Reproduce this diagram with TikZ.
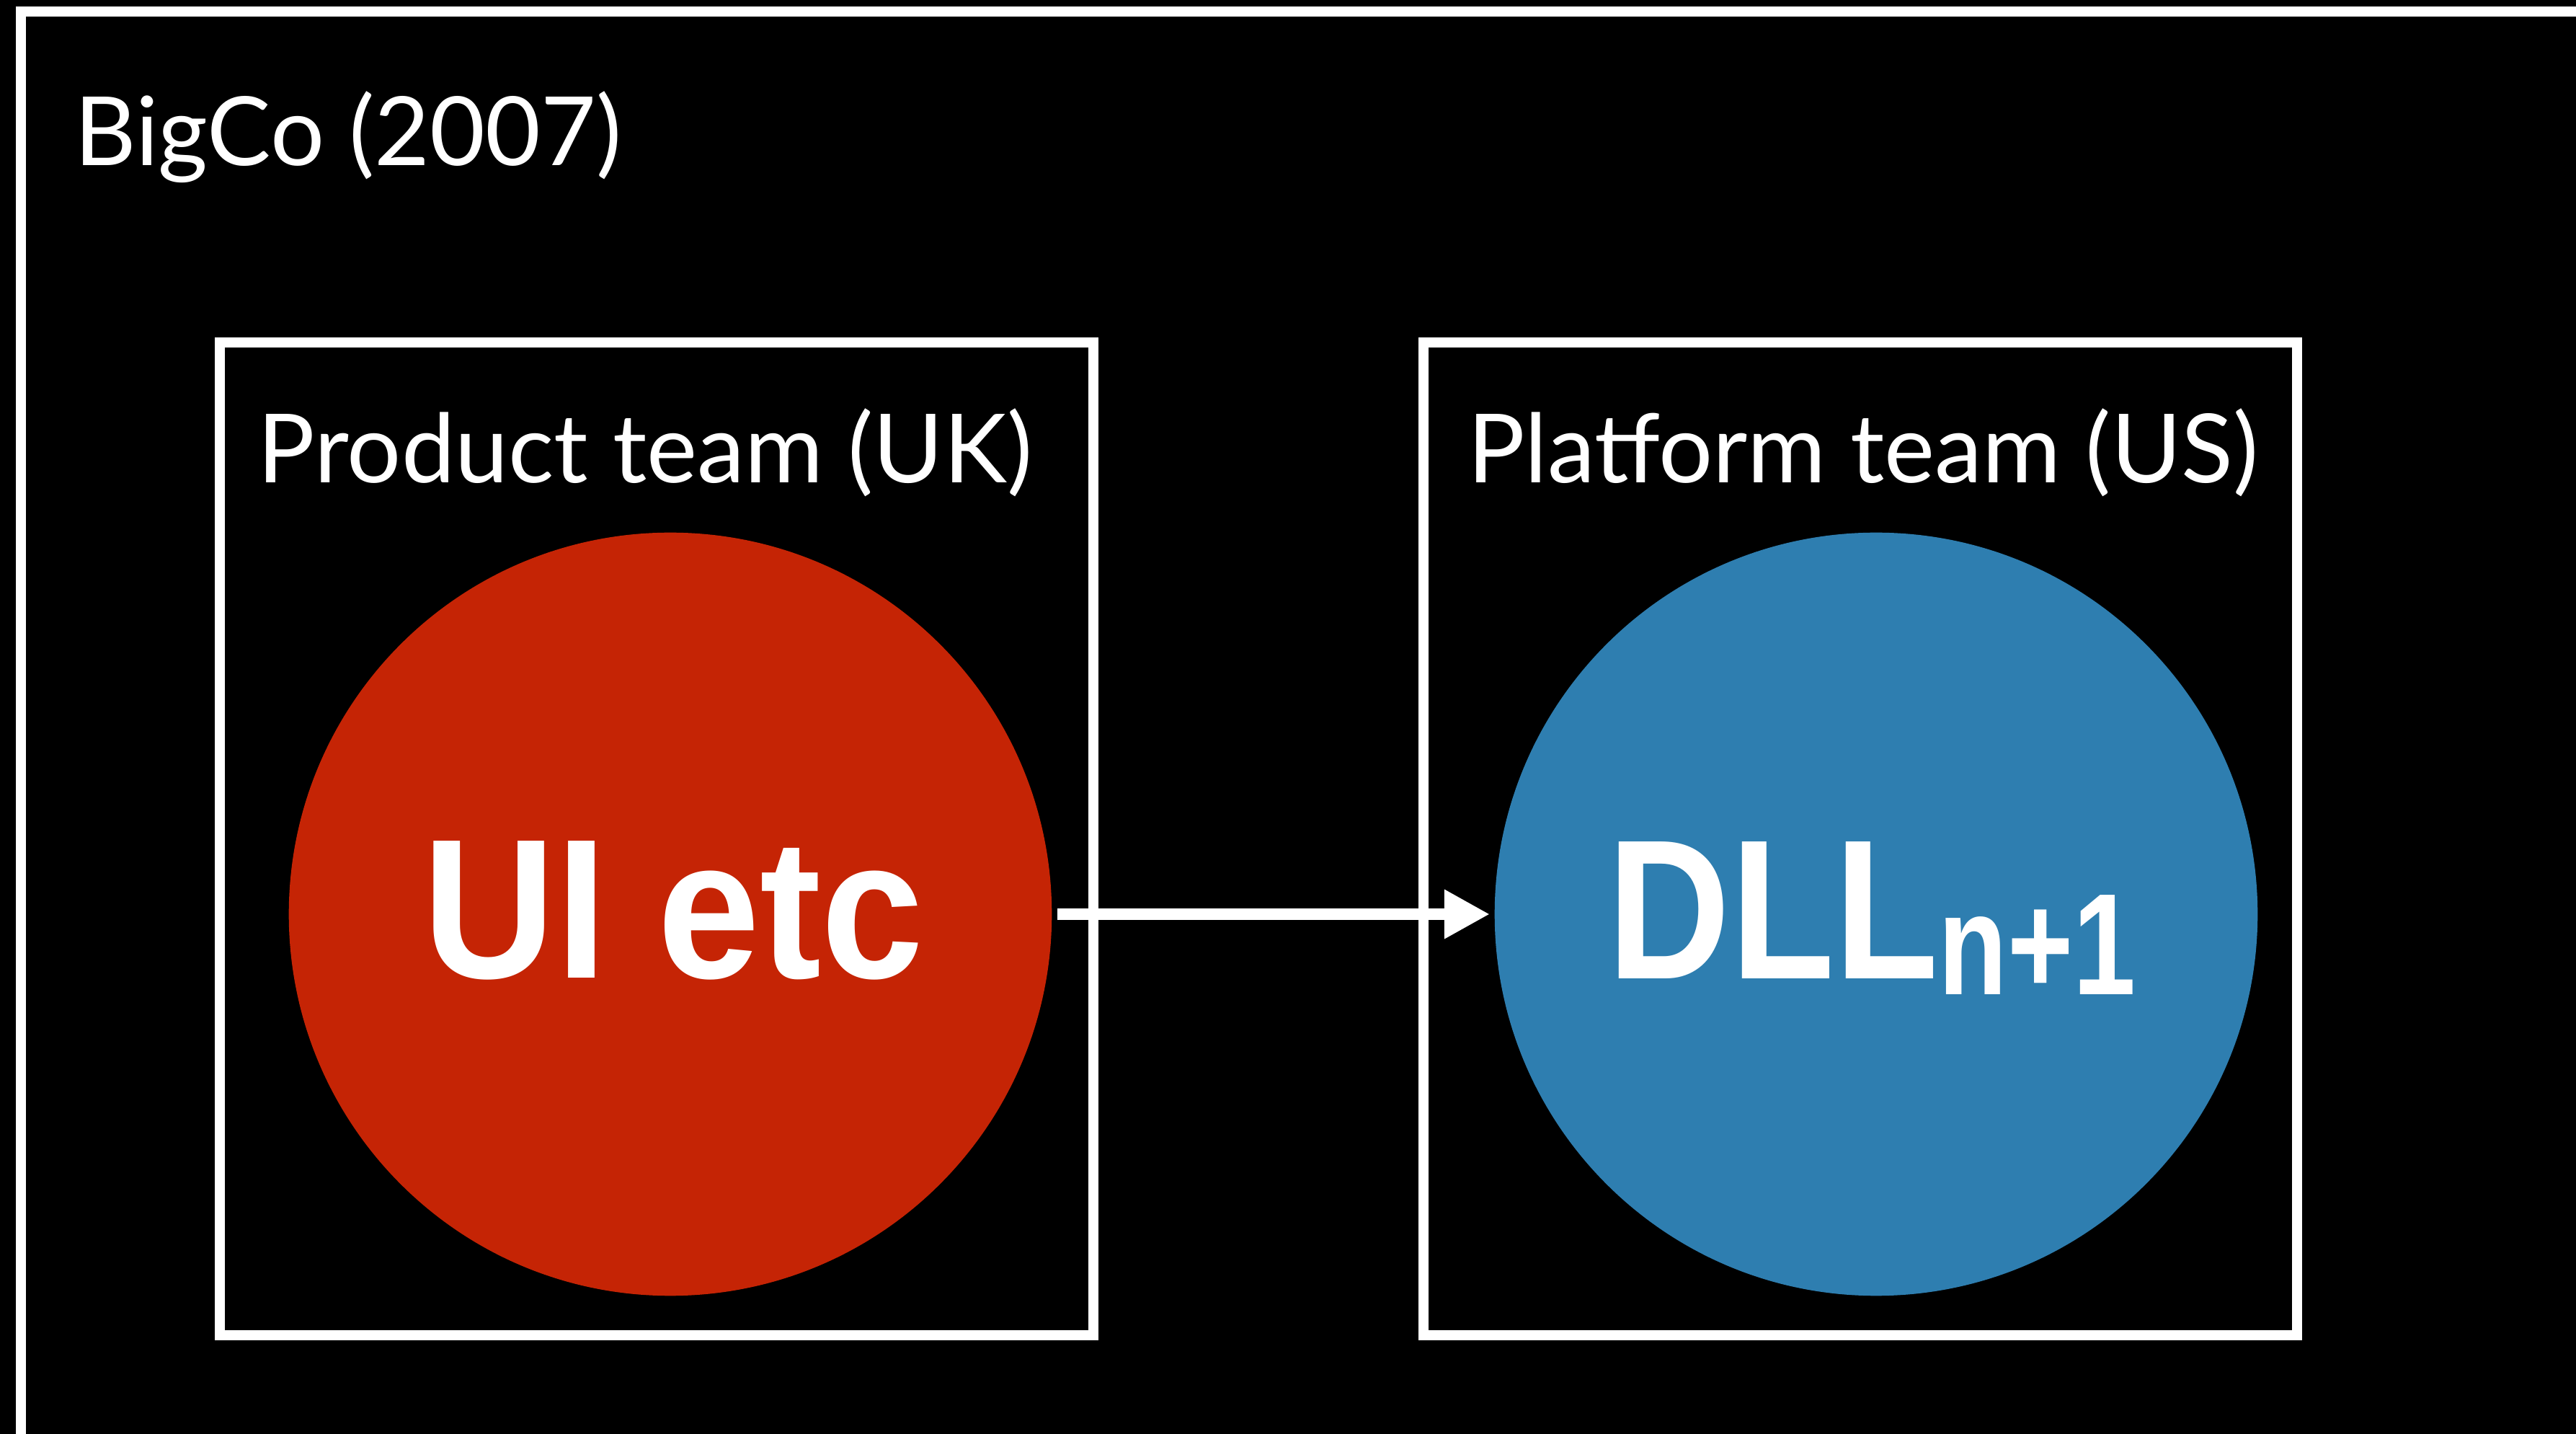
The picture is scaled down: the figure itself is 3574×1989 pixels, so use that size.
\documentclass[tikz,border=0pt]{standalone}
\usepackage{fontspec}
\setmainfont{Lato}
\newfontfamily\circfont{Liberation Sans}
\usetikzlibrary{arrows.meta}
\definecolor{redc}{RGB}{197,36,5}
\definecolor{bluec}{RGB}{46,126,176}
\begin{document}
\begin{tikzpicture}[x=0.01cm,y=-0.01cm,
  frameline/.style={draw=white,line width=0.14cm},
  teambox/.style={draw=white,line width=0.14cm,minimum width=12.12cm,minimum height=13.77cm,inner sep=0pt},
  lbl/.style={text=white,font=\fontsize{37.7pt}{40pt}\selectfont,inner sep=0pt},
  blob/.style={circle,minimum size=10.58cm,inner sep=0pt},
  big/.style={text=white,font=\circfont\bfseries\fontsize{78.5pt}{80pt}\selectfont,inner sep=0pt},
  link/.style={draw=white,line width=0.16cm,-{Triangle[length=0.63cm,width=0.64cm]}}]
\fill[black] (0,0) rectangle (3574,1989);
\useasboundingbox (0,0) rectangle (3574,1989);
\clip (0,0) rectangle (3574,1989);
\coordinate (bigcoNW) at (29,16);
\coordinate (bigcoSE) at (3700,2100);
\draw[frameline] (bigcoNW) rectangle (bigcoSE);
\node[lbl,anchor=base west] (bigco) at (103,230) {BigCo (2007)};
\node[teambox] (product) at (911,1163.5) {};
\node[teambox] (platform) at (2581,1163.5) {};
\node[lbl,anchor=base] (productlbl) at (895,670) {Product team (UK)};
\node[lbl,anchor=base] (platformlbl) at (2585,670) {Platform team (US)};
\node[blob,fill=redc] (ui) at (930,1268) {};
\node[blob,fill=bluec] (dll) at (2603,1268) {};
\node[big,anchor=base west] (uitext) at (586,1357) {\scalebox{0.925}[1]{UI etc}};
\node[big,anchor=base west] (dlltext) at (2230,1358) {\scalebox{0.855}[1]{DLL}\raisebox{-0.21cm}{\fontsize{57pt}{59pt}\selectfont\scalebox{0.78}[1]{n+1}}};
\draw[link,shorten <=0.07cm,shorten >=0.06cm] (ui.east) -- (dll.west);
\end{tikzpicture}
\end{document}
